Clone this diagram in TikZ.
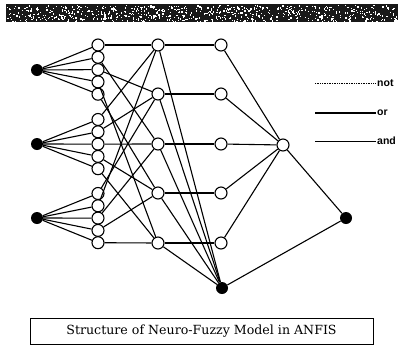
\documentclass[tikz,border=0pt]{standalone}
\usepackage{fontspec}
\newfontfamily\capfont{DejaVu Serif}
\newfontfamily\legfont{Liberation Sans}
\begin{document}
\begin{tikzpicture}[x=1pt,y=-1pt,
  wnode/.style={circle,draw,fill=white,line width=1.1pt,minimum size=12pt,inner sep=0pt},
  bnode/.style={circle,fill=black,minimum size=12pt,inner sep=0pt},
  link/.style={line width=1.1pt},
  notline/.style={line width=0.7pt,densely dotted},
  orline/.style={line width=1.4pt},
  andline/.style={line width=1pt},
  legtext/.style={anchor=west,inner sep=1pt,font=\legfont\bfseries\fontsize{10.5}{12}\selectfont},
]
\useasboundingbox (0,0) rectangle (403,354);
\fill[white] (0,0) rectangle (403,354);
% header band with grainy texture
\fill[black!90] (6,4) rectangle (398,22);
\pgfmathsetseed{7}
\foreach \i in {1,...,700} {
  \pgfmathsetmacro{\px}{7+390*rnd}
  \pgfmathsetmacro{\py}{5+16*rnd}
  \fill[white] (\px,\py) rectangle ++(1.3,1.3);
}

% inputs
\node[bnode] (x1) at (37,70) {};
\node[bnode] (x2) at (37,144) {};
\node[bnode] (x3) at (37,218) {};
% membership functions
\foreach \k in {1,...,5} {
  \node[wnode] (a\k) at (98,{45+12.3*(\k-1)}) {};
  \node[wnode] (b\k) at (98,{119.5+12.3*(\k-1)}) {};
  \node[wnode] (c\k) at (98,{193.5+12.3*(\k-1)}) {};
}
% rules and normalisation
\foreach \k/\yy in {1/45,2/94,3/144,4/193,5/243} {
  \node[wnode] (r\k) at (158,\yy) {};
  \node[wnode] (n\k) at (221,\yy) {};
}
\node[wnode] (s) at (283,145) {};
\node[bnode] (z) at (222,288) {};
\node[bnode] (o) at (346,218) {};

% connections
\foreach \k in {1,...,5} {
  \draw[link] (x1) -- (a\k);
  \draw[link] (x2) -- (b\k);
  \draw[link] (x3) -- (c\k);
  \draw[link] (r\k) -- (n\k);
  \draw[link] (r\k) -- (z);
  \draw[link] (n\k) -- (s);
}
\foreach \m/\r in {a1/r1,a2/r3,a3/r2,a4/r5,a5/r4,
                   b1/r1,b2/r2,b3/r3,b4/r4,b5/r5,
                   c1/r2,c2/r1,c3/r3,c4/r4,c5/r5}
  \draw[link] (\m) -- (\r);
\draw[link] (s) -- (o);
\draw[link] (z) -- (o);

% legend
\node[legtext] (tnot) at (376,83) {not};
\node[legtext] (tor) at (376,113) {or};
\node[legtext] (tand) at (376,141) {and};
\coordinate (lnot) at (315,83);
\coordinate (lor) at (315,113);
\coordinate (land) at (315,141);
\draw[notline] (lnot) -- (tnot.west);
\draw[orline] (lor) -- (tor.west);
\draw[andline] (land) -- (tand.west);

% caption
\node[draw,line width=0.9pt,minimum width=343pt,minimum height=26pt,inner sep=0pt] (cap) at (201.5,331)
  {\capfont\fontsize{12.6}{14}\selectfont Structure of Neuro-Fuzzy Model in ANFIS};
\end{tikzpicture}
\end{document}
